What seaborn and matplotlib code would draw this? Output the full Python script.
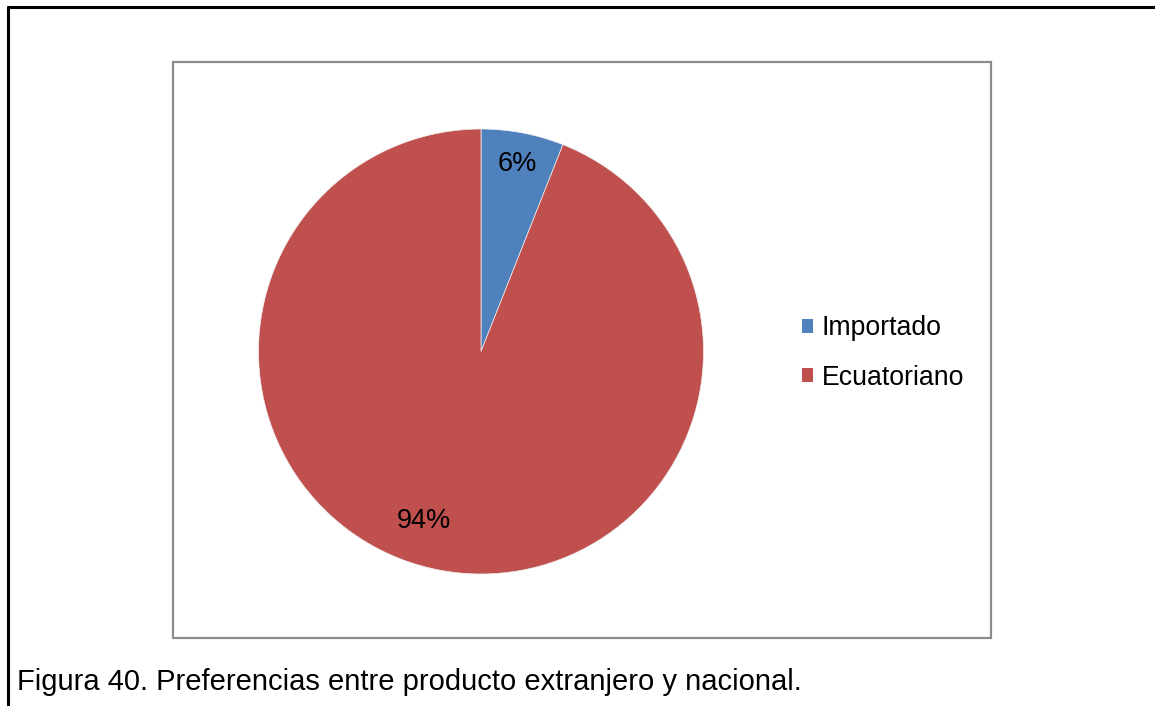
import matplotlib
matplotlib.use("Agg")
import matplotlib.pyplot as plt
import seaborn as sns
from matplotlib.patches import Rectangle
from matplotlib.lines import Line2D

# Preference shares between imported and national product
categorias = ["Importado", "Ecuatoriano"]
porcentajes = [6, 94]
colores = ["#4F81BD", "#C0504D"]
titulo = "Figura 40. Preferencias entre producto extranjero y nacional."

sns.set_theme(style="white")
plt.rcParams["font.family"] = ["Liberation Sans", "DejaVu Sans"]
plt.rcParams["text.color"] = "black"

W, H = 1155, 706
fig = plt.figure(figsize=(W / 100, H / 100), dpi=100)
fig.patch.set_facecolor("white")

def fx(px):
    return px / W

def fy(py):
    return 1 - py / H

# Document frame: top and left rule
fig.add_artist(Line2D([fx(7.5), 1.0], [fy(7), fy(7)], color="black", lw=2.2,
                      transform=fig.transFigure))
fig.add_artist(Line2D([fx(7.5), fx(7.5)], [fy(7), 0.0], color="black", lw=2.2,
                      transform=fig.transFigure))

# Chart area border
fig.add_artist(Rectangle((fx(173), fy(638)), fx(991) - fx(173), fy(62) - fy(638),
                         fill=False, edgecolor="#8c8c8c", lw=1.6,
                         transform=fig.transFigure))

# Pie axes
cx, cy, r = 481, 351.5, 222.5
ax = fig.add_axes([fx(cx - r), fy(cy + r), 2 * r / W, 2 * r / H])
wedges, texts, autotexts = ax.pie(
    porcentajes, colors=colores, startangle=90, counterclock=False,
    autopct=lambda p: f"{p:.0f}%", pctdistance=0.86, radius=1,
    wedgeprops=dict(linewidth=0.5, edgecolor="#f0f0f0"),
    textprops=dict(fontsize=19.5, color="black"),
)
autotexts[1].set_position((-0.256, -0.76))
ax.set_xlim(-1, 1)
ax.set_ylim(-1, 1)
ax.set_aspect("auto")
ax.axis("off")

# Legend
handles = [Rectangle((0, 0), 1, 1, facecolor=c, edgecolor="none") for c in colores]
leg = fig.legend(handles, categorias, loc="center left",
                 bbox_to_anchor=(fx(802), fy(353)), frameon=False,
                 fontsize=19.2, handlelength=0.4, handleheight=0.4,
                 handletextpad=0.35, labelspacing=0.87, borderpad=0,
                 borderaxespad=0)
for t in leg.get_texts():
    t.set_color("black")

# Caption
fig.text(fx(17), fy(682), titulo, fontsize=21, color="black",
         ha="left", va="center")

fig.savefig("out.png", dpi=100, facecolor="white")
